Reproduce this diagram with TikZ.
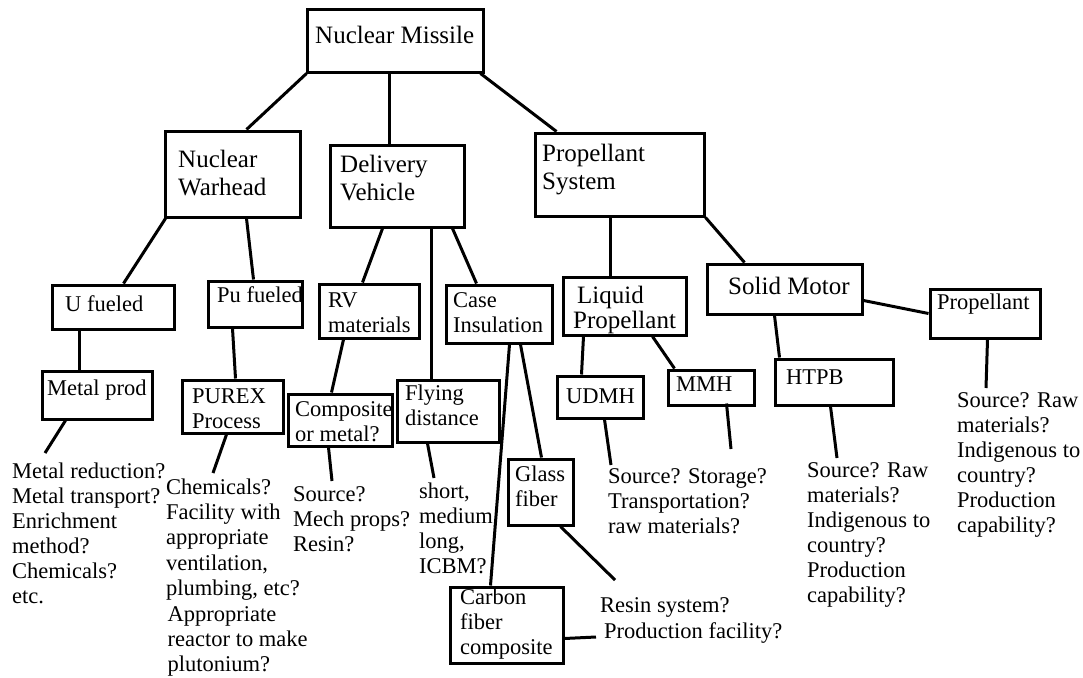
\documentclass[tikz,border=0pt]{standalone}
\usepackage{fontspec}
\setmainfont{Liberation Serif}
\newcommand\bodyf{\fontsize{22.5}{25}\selectfont}
\newcommand\bigf{\fontsize{25}{28}\selectfont}
\begin{document}
\begin{tikzpicture}[x=1pt,y=-1pt,
  box/.style={draw,line width=3pt,inner sep=0pt},
  txt/.style={anchor=north west,inner sep=0pt,align=left,font=\bodyf},
  bigtxt/.style={anchor=north west,inner sep=0pt,align=left,font=\bigf},
  conn/.style={line width=3pt}]
\useasboundingbox[fill=white] (0,0) rectangle (1083,677);
% boxes
\node[box,minimum width=176pt,minimum height=62pt] (nm) at (395,41) {};
\node[box,minimum width=135pt,minimum height=86pt] (nw) at (232.5,174) {};
\node[box,minimum width=134pt,minimum height=82pt] (dv) at (397,186) {};
\node[box,minimum width=169pt,minimum height=83pt] (ps) at (619.5,174.5) {};
\node[box,minimum width=122pt,minimum height=44pt] (uf) at (113,307) {};
\node[box,minimum width=94pt,minimum height=46pt] (pu) at (255,304) {};
\node[box,minimum width=100pt,minimum height=54pt] (rv) at (369,311) {};
\node[box,minimum width=106pt,minimum height=58pt] (ci) at (499,314) {};
\node[box,minimum width=123pt,minimum height=58pt] (lp) at (624.5,306) {};
\node[box,minimum width=155pt,minimum height=50pt] (sm) at (784.5,289) {};
\node[box,minimum width=110pt,minimum height=49pt] (pr) at (985,313.5) {};
\node[box,minimum width=110pt,minimum height=48pt] (mp) at (97,395) {};
\node[box,minimum width=101pt,minimum height=53pt] (px) at (232.5,406.5) {};
\node[box,minimum width=104pt,minimum height=52pt] (co) at (340,420) {};
\node[box,minimum width=102pt,minimum height=62pt] (fd) at (448,411) {};
\node[box,minimum width=86pt,minimum height=42pt] (ud) at (600,397) {};
\node[box,minimum width=86pt,minimum height=35pt] (mm) at (711,387.5) {};
\node[box,minimum width=118pt,minimum height=46pt] (ht) at (834,382) {};
\node[box,minimum width=65pt,minimum height=66pt] (gf) at (540.5,492) {};
\node[box,minimum width=113pt,minimum height=76pt] (cf) at (506.5,625) {};
% box texts
\node[bigtxt] (nm-t) at (315,23.4) {\strut Nuclear Missile};
\node[bigtxt] (nw-t) at (178,147.4) {\strut Nuclear\\Warhead};
\node[bigtxt] (dv-t) at (340,152.4) {\strut Delivery\\Vehicle};
\node[bigtxt] (ps-t) at (542,141.4) {\strut Propellant\\System};
\node[anchor=north west,inner sep=0pt,align=left,font=\fontsize{25}{25}\selectfont] (lp-t) at (573,285.5) {\strut\hspace*{4pt}Liquid\\Propellant};
\node[bigtxt] (sm-t) at (728,274.4) {\strut Solid Motor};
\node[txt] (uf-t) at (65,293.5) {\strut U fueled};
\node[txt] (pu-t) at (217,284.5) {\strut Pu fueled};
\node[txt] (rv-t) at (328,289.5) {\strut RV\\materials};
\node[txt] (ci-t) at (453,289.5) {\strut Case\\Insulation};
\node[txt] (pr-t) at (937,291.5) {\strut Propellant};
\node[txt] (mp-t) at (47,377.5) {\strut Metal prod};
\node[txt] (px-t) at (192,385.5) {\strut PUREX\\Process};
\node[txt] (co-t) at (295,398.5) {\strut Composite\\or metal?};
\node[txt] (fd-t) at (405,382.5) {\strut Flying\\distance};
\node[txt] (ud-t) at (566,385.5) {\strut UDMH};
\node[txt] (mm-t) at (676,373.5) {\strut MMH};
\node[txt] (ht-t) at (786,366.5) {\strut HTPB};
\node[txt] (gf-t) at (515,463.5) {\strut Glass\\fiber};
\node[txt] (cf-t) at (460,586.5) {\strut Carbon\\fiber\\composite};
% free texts
\node[txt] (q-mp) at (12,460.5) {\strut Metal reduction?\\Metal transport?\\Enrichment\\method?\\Chemicals?\\etc.};
\node[txt,font=\fontsize{22.5}{25.4}\selectfont] (q-px) at (166,476.2) {\strut Chemicals?\\Facility with\\appropriate\\ventilation,\\plumbing, etc?\\\hspace*{1.5pt}Appropriate\\\hspace*{1.5pt}reactor to make\\\hspace*{1.5pt}plutonium?};
\node[txt] (q-co) at (293,483.5) {\strut Source?\\Mech props?\\Resin?};
\node[txt] (q-fd) at (419,480.5) {\strut short,\\medium,\\long,\\ICBM?};
\node[txt] (q-ud) at (608,465.5) {\strut Source? Storage?\\Transportation?\\raw materials?};
\node[txt,font=\fontsize{22.5}{26}\selectfont] (q-gf) at (600,593.8) {\strut Resin system?\\\hspace*{4pt}Production facility?};
\node[txt] (q-ht) at (807,459.5) {\strut Source? Raw\\materials?\\Indigenous to\\country?\\Production\\capability?};
\node[txt] (q-pr) at (957,389.5) {\strut Source? Raw\\materials?\\Indigenous to\\country?\\Production\\capability?};
% free ends
\coordinate (c-mp) at (45,453);
\coordinate (c-px) at (213,473);
\coordinate (c-co) at (332,481);
\coordinate (c-fd) at (434,478);
\coordinate (c-ud) at (611,465);
\coordinate (c-mm) at (731,449);
\coordinate (c-ht) at (837,458);
\coordinate (c-pr) at (986,388);
\coordinate (c-gf) at (615,580);
\coordinate (c-cf) at (596,637);
% connectors
\draw[conn] ([xshift=1pt]nm.south west) -- ([xshift=83pt]nw.north west);
\draw[conn] ([xshift=84pt]nm.south west) -- ([xshift=61pt]dv.north west);
\draw[conn] ([xshift=-4pt]nm.south east) -- ([xshift=23pt]ps.north west);
\draw[conn] ([xshift=2pt]nw.south west) -- ([xshift=73pt]uf.north west);
\draw[conn] ([xshift=83pt]nw.south west) -- ([xshift=47pt]pu.north west);
\draw[conn] ([xshift=54pt]dv.south west) -- ([xshift=45pt]rv.north west);
\draw[conn] ([xshift=103pt]dv.south west) -- ([xshift=36pt]fd.north west);
\draw[conn] ([xshift=124pt]dv.south west) -- ([xshift=32pt]ci.north west);
\draw[conn] ([xshift=77pt]ps.south west) -- ([xshift=49pt]lp.north west);
\draw[conn] (ps.south east) -- ([xshift=39pt]sm.north west);
\draw[conn] ([xshift=22pt]lp.south west) -- ([xshift=26pt]ud.north west);
\draw[conn] ([xshift=91pt]lp.south west) -- ([xshift=8pt]mm.north west);
\draw[conn] ([xshift=69pt]sm.south west) -- ([xshift=6pt]ht.north west);
\draw[conn] ([yshift=15pt]sm.south east) -- (pr.west);
\draw[conn] ([xshift=29pt]uf.south west) -- ([xshift=39pt]mp.north west);
\draw[conn] ([xshift=26pt]pu.south west) -- ([xshift=55pt]px.north west);
\draw[conn] ([xshift=26pt]rv.south west) -- ([xshift=45pt]co.north west);
\draw[conn] ([xshift=65pt]ci.south west) -- ([xshift=42pt]cf.north west);
\draw[conn] ([xshift=76pt]ci.south west) -- ([xshift=35pt]gf.north west);
\draw[conn] ([xshift=25pt]mp.south west) -- (c-mp);
\draw[conn] ([xshift=46pt]px.south west) -- (c-px);
\draw[conn] ([xshift=42pt]co.south west) -- (c-co);
\draw[conn] ([xshift=32pt]fd.south west) -- (c-fd);
\draw[conn] ([xshift=49pt]ud.south west) -- (c-ud);
\draw[conn] ([xshift=60pt,yshift=3pt]mm.south west) -- (c-mm);
\draw[conn] ([xshift=57pt]ht.south west) -- (c-ht);
\draw[conn] ([xshift=59pt]pr.south west) -- (c-pr);
\draw[conn] ([xshift=54pt]gf.south west) -- (c-gf);
\draw[conn] ([yshift=26pt]cf.south east) -- (c-cf);
\end{tikzpicture}
\end{document}
